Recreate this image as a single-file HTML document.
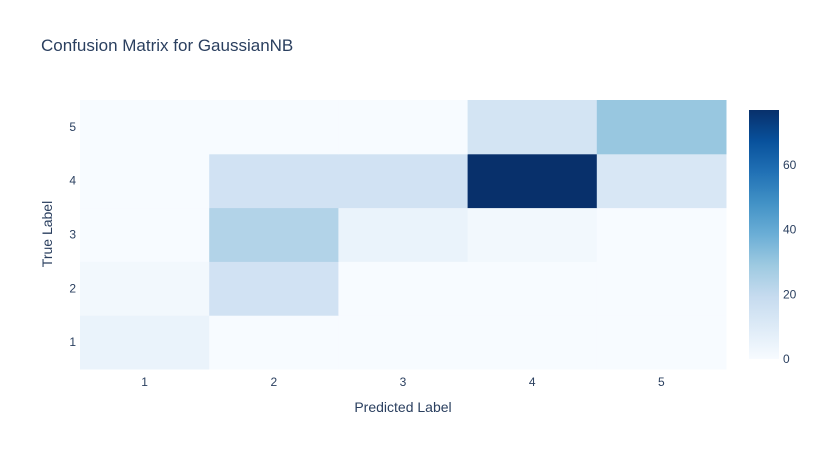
<!DOCTYPE html>
<html><head><meta charset="utf-8"><style>
body{margin:0;background:#fff;font-family:"Liberation Sans",sans-serif;}
svg text{font-family:"Liberation Sans",sans-serif;fill:#2a3f5f;}
</style></head><body>
<svg id="chart" width="816" height="450">
<text x="41" y="51" font-size="17">Confusion Matrix for GaussianNB</text>
<g id="cells"></g>
<g id="xticks"></g><g id="yticks"></g>
<text x="403" y="412" font-size="14" text-anchor="middle">Predicted Label</text>
<text x="0" y="0" font-size="14" text-anchor="middle" transform="translate(52,234) rotate(-90)">True Label</text>
<defs><linearGradient id="cb" x1="0" y1="1" x2="0" y2="0"></linearGradient></defs>
<rect x="749" y="110" width="30" height="249" fill="url(#cb)"/>
<g id="cbticks"></g>
</svg>
<script>
const xLabels=["1","2","3","4","5"];
const yLabels=["1","2","3","4","5"];
const row1=[5,0,0,0,0];
const row2=[2,15,0,0,0];
const row3=[0,24,5,2,0];
const row4=[0,15,15,77,12];
const row5=[0,0,0,14,30];
const cbTicks=[0,20,40,60];
const zmax=77;
const rows=[row1,row2,row3,row4,row5];
const scale=[[247,251,255],[222,235,247],[198,219,239],[158,202,225],[107,174,214],[66,146,198],[33,113,181],[8,81,156],[8,48,107]];
function color(v){let t=Math.max(0,Math.min(1,v/zmax))*(scale.length-1);let i=Math.min(Math.floor(t),scale.length-2);let f=t-i;
const c=scale[i].map((a,k)=>Math.round(a+(scale[i+1][k]-a)*f));return `rgb(${c})`;}
const X0=80,X1=726,Y0=100,Y1=369;
const cw=(X1-X0)/xLabels.length, ch=(Y1-Y0)/yLabels.length;
const xs=i=>X0+i*cw, ys=j=>Y1-(j+1)*ch;
const NS="http://www.w3.org/2000/svg";
const cells=document.getElementById('cells');
rows.forEach((r,j)=>r.forEach((v,i)=>{const e=document.createElementNS(NS,'rect');
e.setAttribute('x',xs(i));e.setAttribute('y',ys(j));e.setAttribute('width',cw+0.5);e.setAttribute('height',ch+0.5);e.setAttribute('fill',color(v));


cells.appendChild(e);}));
const xt=document.getElementById('xticks');
xLabels.forEach((l,i)=>{const t=document.createElementNS(NS,'text');t.setAttribute('x',xs(i)+cw/2);t.setAttribute('y',386);t.setAttribute('font-size','12');t.setAttribute('text-anchor','middle');t.textContent=l;


xt.appendChild(t);});
const yt=document.getElementById('yticks');
yLabels.forEach((l,j)=>{const t=document.createElementNS(NS,'text');t.setAttribute('x',76);t.setAttribute('y',ys(j)+ch/2+4);t.setAttribute('font-size','12');t.setAttribute('text-anchor','end');t.textContent=l;


yt.appendChild(t);});
const g=document.getElementById('cb');
scale.forEach((c,k)=>{const s=document.createElementNS(NS,'stop');s.setAttribute('offset',k/(scale.length-1));s.setAttribute('stop-color',`rgb(${c})`);g.appendChild(s);});
const cbt=document.getElementById('cbticks');
cbTicks.forEach(v=>{const y=359-v/zmax*249;const t=document.createElementNS(NS,'text');t.setAttribute('x',783);t.setAttribute('y',y+4);t.setAttribute('font-size','12');t.textContent=v;


cbt.appendChild(t);});
</script>
</body></html>
